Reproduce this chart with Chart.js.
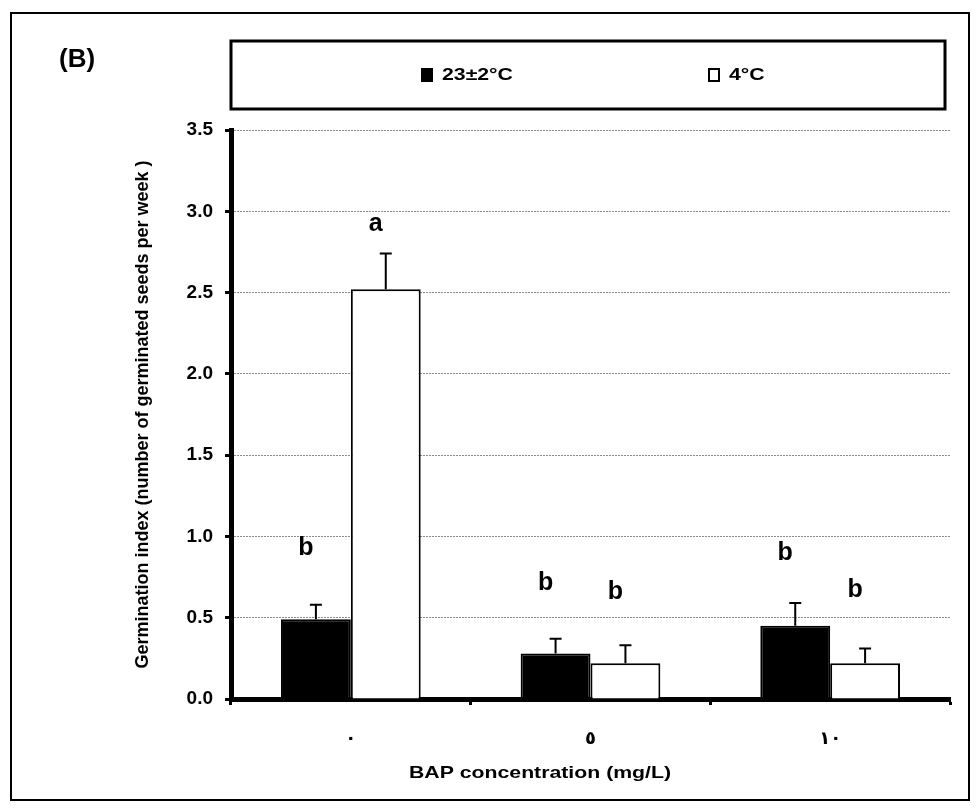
<!DOCTYPE html>
<html>
<head>
<meta charset="utf-8">
<script src="https://cdn.jsdelivr.net/npm/chart.js@4.4.0/dist/chart.umd.min.js"></script>
<style>
  html, body { margin: 0; padding: 0; background: #fff; }
</style>
</head>
<body>
<canvas id="germChart" width="980" height="811"></canvas>
<script>
// BAP levels, written with Arabic-Indic digits like the original figure
var bapLevels = ['٠', '٥', '١٠'];
var seriesNames = ['23±2°C', '4°C'];

// mean germination index and its error (upper bar only)
var warmMeans = [0.49, 0.28, 0.45];
var warmErrors = [0.09, 0.09, 0.14];
var coldMeans = [2.52, 0.22, 0.22];
var coldErrors = [0.22, 0.11, 0.09];

// significance letters and the height they sit at
var warmLetters = ['b', 'b', 'b'];
var coldLetters = ['a', 'b', 'b'];
var warmLetterAt = [0.93, 0.71, 0.90];
var coldLetterAt = [2.92, 0.66, 0.67];

var yTicks = [0, 0.5, 1, 1.5, 2, 2.5, 3, 3.5];

var FONT = '"Liberation Sans", Arial, sans-serif';

// the original text is drawn a bit wider than normal
function wideText(ctx, text, x, y, size, align) {
    ctx.save();
    ctx.translate(x, y);
    ctx.scale(1.25, 1);
    ctx.font = 'bold ' + size + 'px ' + FONT;
    ctx.fillStyle = '#000';
    ctx.textAlign = align;
    ctx.textBaseline = 'middle';
    ctx.fillText(text, 0, 0);
    ctx.restore();
}

var extras = {
    id: 'extras',
    afterDatasetsDraw: function(chart) {
        var ctx = chart.ctx;
        var y = chart.scales.y;
        chart.data.datasets.forEach(function(ds, di) {
            var meta = chart.getDatasetMeta(di);
            meta.data.forEach(function(bar, i) {
                var top = y.getPixelForValue(ds.data[i] + ds.errors[i]);
                ctx.save();
                ctx.strokeStyle = '#000';
                ctx.lineWidth = 2;
                ctx.beginPath();
                ctx.moveTo(bar.x, bar.y);
                ctx.lineTo(bar.x, top);
                ctx.moveTo(bar.x - 6, top);
                ctx.lineTo(bar.x + 6, top);
                ctx.stroke();
                ctx.font = 'bold 25px ' + FONT;
                ctx.fillStyle = '#000';
                ctx.textAlign = 'center';
                ctx.textBaseline = 'middle';
                ctx.fillText(ds.letters[i], bar.x - 10, y.getPixelForValue(ds.letterAt[i]));
                ctx.restore();
            });
        });
    },
    afterDraw: function(chart) {
        var ctx = chart.ctx;
        var area = chart.chartArea;
        ctx.save();
        // outer frame
        ctx.strokeStyle = '#000';
        ctx.lineWidth = 2;
        ctx.strokeRect(11, 13, 958, 787);
        // panel label
        ctx.font = 'bold 26px ' + FONT;
        ctx.fillStyle = '#000';
        ctx.textBaseline = 'middle';
        ctx.fillText('(B)', 59, 60);
        // legend frame
        ctx.lineWidth = 3;
        ctx.strokeRect(area.left, 41, area.right - 5 - area.left, 68);
        var itemX = [area.left + 190, area.left + 477];
        chart.data.datasets.forEach(function(ds, i) {
            ctx.fillStyle = ds.backgroundColor;
            ctx.fillRect(itemX[i], 68, 12, 14);
            ctx.lineWidth = 2;
            ctx.strokeRect(itemX[i] + 1, 69, 10, 12);
            wideText(ctx, ds.label, itemX[i] + 21, 75, 17, 'left');
        });
        ctx.restore();
        // x axis title
        wideText(ctx, 'BAP concentration (mg/L)', 540, 773, 17, 'center');
    }
};

var ctx = document.getElementById('germChart').getContext('2d');
var chart = new Chart(ctx, {
    type: 'bar',
    data: {
        labels: bapLevels,
        datasets: [{
            label: seriesNames[0],
            data: warmMeans,
            errors: warmErrors,
            letters: warmLetters,
            letterAt: warmLetterAt,
            backgroundColor: '#000',
            borderColor: '#000',
            borderWidth: 2
        }, {
            label: seriesNames[1],
            data: coldMeans,
            errors: coldErrors,
            letters: coldLetters,
            letterAt: coldLetterAt,
            backgroundColor: '#fff',
            borderColor: '#000',
            borderWidth: 2
        }]
    },
    options: {
        responsive: false,
        animation: false,
        categoryPercentage: 0.583,
        barPercentage: 1,
        layout: { padding: { top: 130, right: 30, left: 0, bottom: 0 } },
        plugins: {
            legend: { display: false },
            tooltip: { enabled: false }
        },
        scales: {
            x: {
                afterFit: function(s) { s.height = 112; },
                ticks: {
                    color: '#000',
                    padding: 24,
                    maxRotation: 0,
                    font: { family: '"DejaVu Sans"', size: 18, weight: 'bold' }
                },
                grid: { drawOnChartArea: false, offset: true, tickColor: '#000', tickWidth: 3, tickLength: 6 },
                border: { color: '#000', width: 5 }
            },
            y: {
                min: 0,
                max: 3.5,
                afterFit: function(s) { s.width = 231; },
                afterBuildTicks: function(s) {
                    s.ticks = yTicks.map(function(v) { return { value: v }; });
                },
                ticks: {
                    color: '#000',
                    padding: 12,
                    font: { family: FONT, size: 19, weight: 'bold' },
                    callback: function(v) { return Number(v).toFixed(1); }
                },
                grid: { color: '#8a8a8a', lineWidth: 1, tickColor: '#000', tickWidth: 3, tickLength: 6 },
                border: { color: '#000', width: 5, dash: [2, 1] },
                title: {
                    display: true,
                    text: 'Germination index (number of germinated seeds per week )',
                    color: '#000',
                    font: { family: FONT, size: 18, weight: 'bold' },
                    padding: { top: 132, bottom: 0 }
                }
            }
        }
    },
    plugins: [extras]
});
</script>
</body>
</html>
